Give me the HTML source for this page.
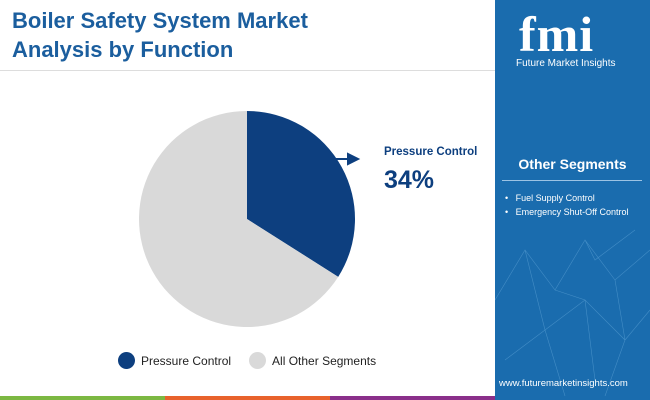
<!DOCTYPE html>
<html><head><meta charset="utf-8"><style>
body{margin:0;width:650px;height:400px;overflow:hidden;background:#fff;font-family:"Liberation Sans",sans-serif;position:relative}
.abs{position:absolute}
</style></head><body>
<div class="abs" style="left:12px;top:6px;font-size:22px;font-weight:bold;color:#1b5e9e;line-height:29px">Boiler Safety System Market<br>Analysis by Function</div>
<div class="abs" style="left:0;top:70px;width:495px;height:1px;background:#ddd"></div>
<div class="abs" style="left:495px;top:0;width:155px;height:396px;background:#1a6cae;overflow:hidden">
<svg width="155" height="396" style="position:absolute;left:0;top:0">
<g stroke="#5fa3d6" stroke-width="0.6" opacity="0.6" fill="none">
<path d="M0 300 L30 250 L60 290 L90 240 L120 280 L155 250 M30 250 L50 330 L90 300 L130 340 L155 310 M60 290 L90 300 L100 380 M10 360 L50 330 L70 396 M120 280 L130 340 L110 396 M90 240 L100 260 L140 230"/>
</g></svg>
<div class="abs" style="left:24px;top:5px;font-size:50px;font-weight:bold;color:#fff;letter-spacing:1px;font-family:'Liberation Serif',serif">fmi</div>
<div class="abs" style="left:21px;top:58px;font-size:10px;color:#fff">Future Market Insights</div>
<div class="abs" style="left:0;width:155px;top:156px;text-align:center;font-size:14px;font-weight:bold;color:#fff">Other Segments</div>
<div class="abs" style="left:7px;top:180px;width:140px;height:1px;background:#9cc3e4"></div>
<div class="abs" style="left:10px;top:191px;font-size:9px;color:#fff;line-height:14px">•&nbsp;&nbsp;&nbsp;Fuel Supply Control<br>•&nbsp;&nbsp;&nbsp;Emergency Shut-Off Control</div>
<div class="abs" style="left:4px;top:378px;font-size:9.5px;color:#fff">www.futuremarketinsights.com</div>
</div>
<div class="abs" style="left:0;top:396px;width:165px;height:4px;background:#7cb842"></div>
<div class="abs" style="left:165px;top:396px;width:165px;height:4px;background:#e8622c"></div>
<div class="abs" style="left:330px;top:396px;width:165px;height:4px;background:#8a2f8a"></div>
<div class="abs" style="left:495px;top:396px;width:155px;height:4px;background:#1a6cae"></div>
<svg class="abs" style="left:0;top:0" width="495" height="396" id="pie"></svg>
<div class="abs" style="left:384px;top:146px;font-size:11.5px;font-weight:bold;color:#0d3f7f">Pressure Control</div>
<div class="abs" style="left:384px;top:166px;font-size:25px;font-weight:bold;color:#0d3f7f">34%</div>
<div class="abs" style="left:118px;top:352px;font-size:12px;color:#222;display:flex;align-items:center">
<span style="width:17px;height:17px;border-radius:50%;background:#0d3f7f;display:inline-block;margin-right:6px"></span><span>Pressure Control</span>
<span style="width:17px;height:17px;border-radius:50%;background:#d9d9d9;display:inline-block;margin:0 6px 0 18px"></span><span>All Other Segments</span>
</div>
<script>
const categories=["Pressure Control","All Other Segments"];
const values=[34,66];
const colors=["#0d3f7f","#d9d9d9"];
const svg=document.getElementById('pie');const ns="http://www.w3.org/2000/svg";
const cx=247,cy=219,r=108;const total=values.reduce((a,b)=>a+b,0);
let a0=0;
values.forEach((v,i)=>{const a1=a0+v/total*2*Math.PI;
const x0=cx+r*Math.sin(a0),y0=cy-r*Math.cos(a0),x1=cx+r*Math.sin(a1),y1=cy-r*Math.cos(a1);
const p=document.createElementNS(ns,'path');
p.setAttribute('d',`M${cx} ${cy} L${x0} ${y0} A${r} ${r} 0 ${a1-a0>Math.PI?1:0} 1 ${x1} ${y1} Z`);
p.setAttribute('fill',colors[i]);


svg.appendChild(p);a0=a1;});
const ar=document.createElementNS(ns,'path');
ar.setAttribute('d','M335 159 L352 159 M348 154 L358 159 L348 164 Z');
ar.setAttribute('stroke','#0d3f7f');ar.setAttribute('stroke-width','2');ar.setAttribute('fill','#0d3f7f');


svg.appendChild(ar);
</script>
</body></html>
